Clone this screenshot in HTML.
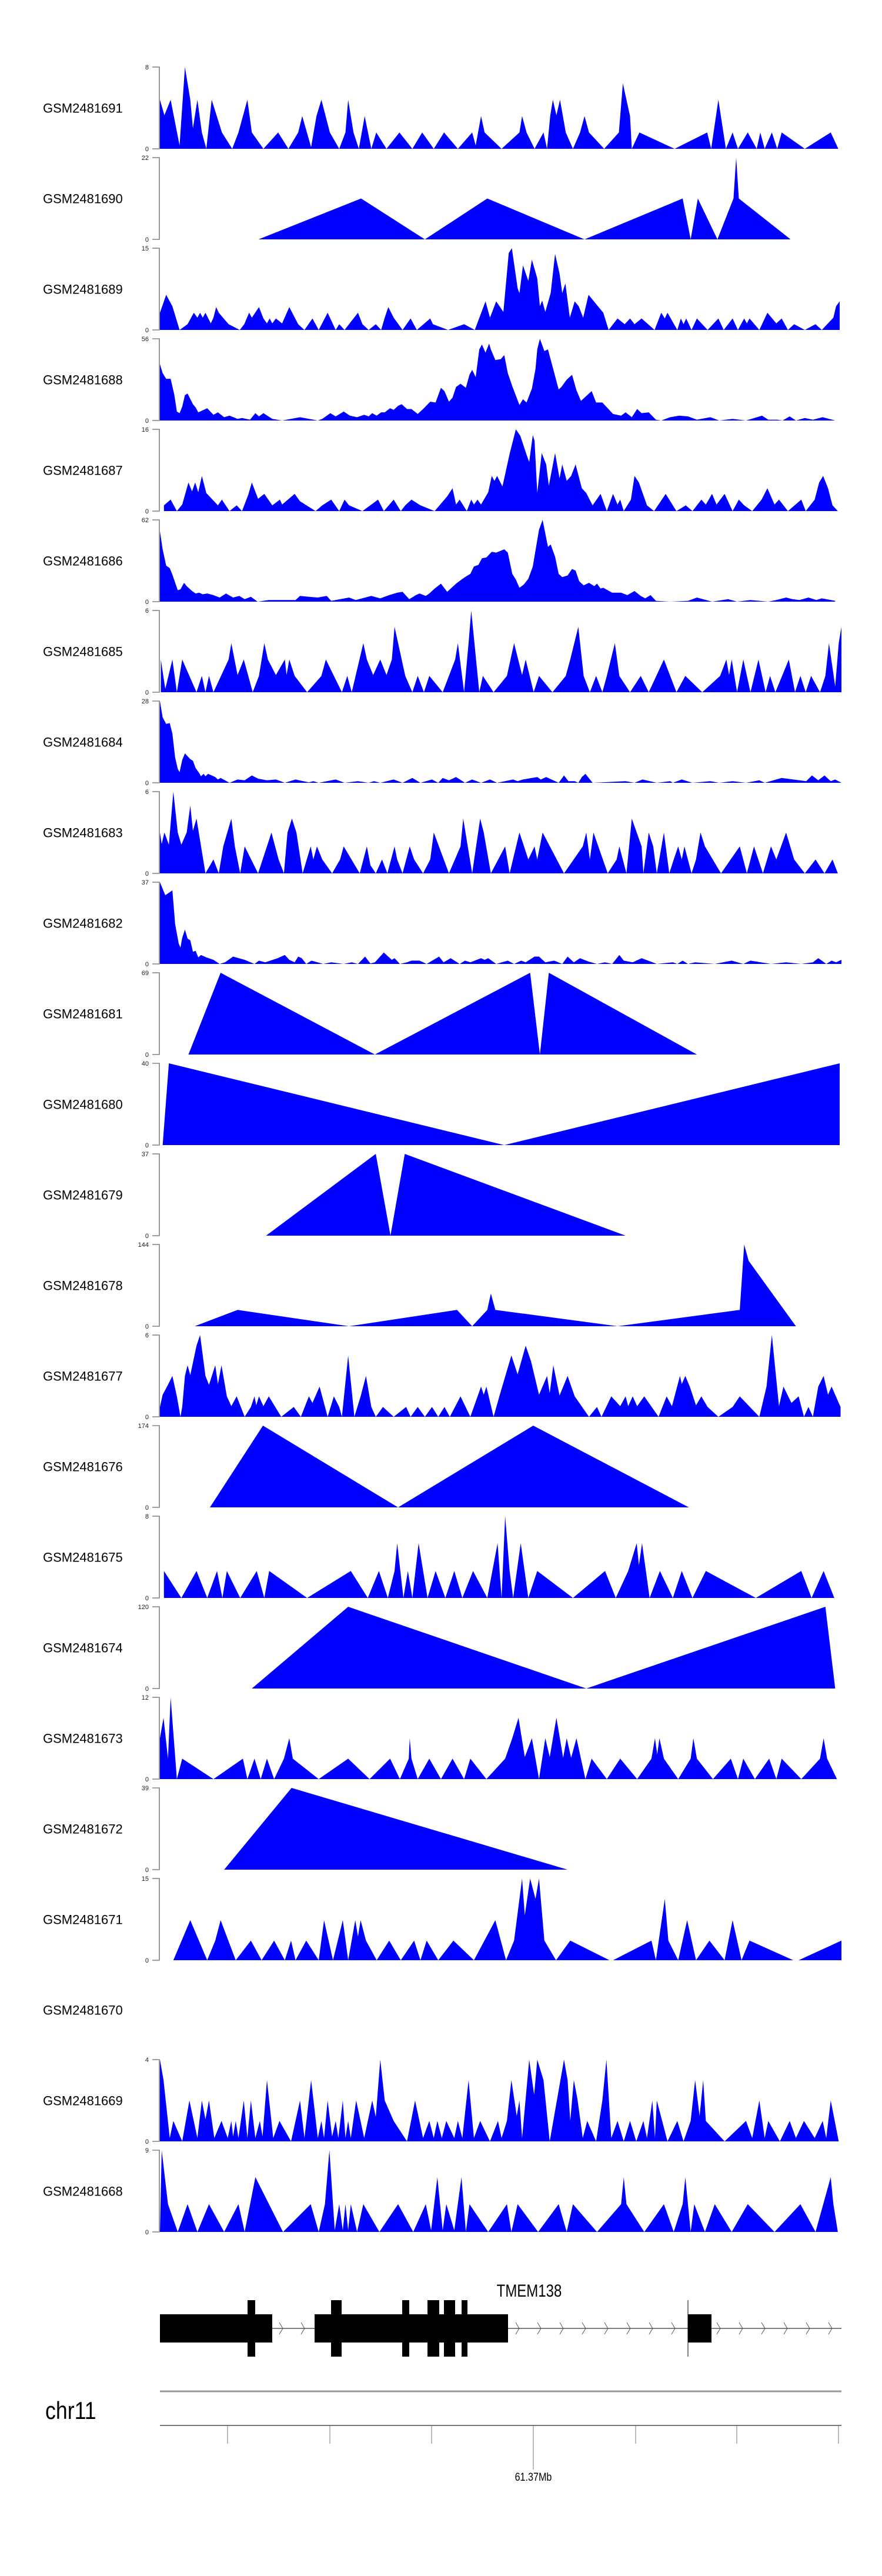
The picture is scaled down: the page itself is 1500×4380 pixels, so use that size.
<!DOCTYPE html>
<html><head><meta charset="utf-8">
<style>
html,body{margin:0;padding:0;background:#fff;}
body{width:1500px;height:4380px;overflow:hidden;font-family:"Liberation Sans",sans-serif;}
svg{display:block;}
</style></head>
<body>
<svg id="chart" width="1500" height="4380" xmlns="http://www.w3.org/2000/svg"></svg>
<script>
// Sample names (top to bottom)
const sampleNames = ["GSM2481691","GSM2481690","GSM2481689","GSM2481688","GSM2481687","GSM2481686","GSM2481685","GSM2481684","GSM2481683","GSM2481682","GSM2481681","GSM2481680","GSM2481679","GSM2481678","GSM2481677","GSM2481676","GSM2481675","GSM2481674","GSM2481673","GSM2481672","GSM2481671","GSM2481670","GSM2481669","GSM2481668"];
// y-axis max tick label per track (null = empty track)
const maxTicks = [8,22,15,56,16,62,6,28,6,37,69,40,37,144,6,174,8,120,12,39,15,null,4,9];
// Coverage series: [genomic bin, signal as % of track max]
const s1691 = [[16,60],[26,41],[40,60],[60,4],[72,100],[84,60],[90,25],[100,60],[110,20],[120,0],[132,60],[155,20],[178,0],[192,20],[212,60],[222,20],[248,0],[281,20],[304,0],[326,20],[335,40],[355,2],[367,40],[378,60],[397,20],[418,0],[432,20],[438,60],[450,20],[462,0],[475,40],[490,0],[501,20],[524,0],[553,20],[582,0],[604,20],[630,0],[653,20],[684,0],[716,20],[724,4],[736,40],[744,20],[782,0],[822,20],[828,40],[838,20],[856,0],[876,20],[884,0],[891,40],[897,60],[905,41],[913,60],[926,20],[942,0],[958,20],[968,40],[978,20],[1012,0],[1045,20],[1054,80],[1062,60],[1070,40],[1074,0],[1091,20],[1170,0],[1243,20],[1252,0],[1268,60],[1285,0],[1300,20],[1312,0],[1334,20],[1354,0],[1362,20],[1372,0],[1388,20],[1400,0],[1410,20],[1462,0],[1520,20],[1537,0]];
const s1690 = [[237,0],[467,50],[610,0],[750,50],[968,0],[1188,50],[1206,0],[1222,50],[1266,0],[1302,50],[1308,100],[1314,50],[1430,0]];
const s1689 = [[16,21],[30,43],[44,29],[60,0],[78,7],[92,21],[100,15],[106,21],[112,15],[118,21],[130,8],[136,15],[142,28],[148,21],[170,7],[195,0],[205,7],[216,21],[222,15],[238,28],[248,14],[256,8],[262,14],[268,8],[276,14],[290,8],[306,28],[326,7],[340,0],[358,14],[372,0],[392,21],[410,0],[418,7],[430,0],[460,21],[470,7],[484,0],[500,7],[512,0],[520,15],[528,28],[540,15],[560,0],[578,14],[592,0],[622,14],[628,7],[662,0],[698,7],[722,0],[746,35],[756,15],[770,35],[786,22],[798,94],[805,100],[818,51],[822,45],[830,79],[842,60],[850,86],[862,63],[868,29],[873,36],[880,22],[892,45],[902,93],[912,69],[918,45],[925,57],[935,15],[946,35],[955,29],[965,15],[977,43],[1010,21],[1022,0],[1042,14],[1058,7],[1070,14],[1080,7],[1096,14],[1125,0],[1140,21],[1148,14],[1154,21],[1176,0],[1184,14],[1190,7],[1196,14],[1208,0],[1220,14],[1244,0],[1268,14],[1280,0],[1300,14],[1312,0],[1326,14],[1332,8],[1338,14],[1360,0],[1378,21],[1398,8],[1410,14],[1424,0],[1438,7],[1462,0],[1486,7],[1500,0],[1526,15],[1532,29],[1540,35]];
const s1688 = [[16,69],[22,58],[30,51],[40,51],[48,32],[54,11],[60,9],[66,17],[72,31],[78,33],[90,20],[96,16],[102,10],[122,15],[136,7],[146,10],[160,4],[172,6],[190,2],[200,3],[218,1],[230,9],[238,5],[248,9],[268,2],[290,0],[330,4],[370,0],[380,2],[398,9],[410,5],[428,11],[442,6],[458,4],[474,7],[484,5],[492,9],[502,6],[512,10],[520,10],[532,15],[540,13],[550,18],[558,20],[570,14],[580,14],[594,8],[606,14],[622,23],[634,22],[646,40],[654,36],[664,23],[672,28],[680,41],[690,45],[702,40],[710,56],[716,62],[724,53],[732,87],[738,93],[746,83],[754,94],[758,87],[768,74],[780,75],[788,80],[796,58],[806,42],[822,19],[830,26],[838,22],[850,39],[858,63],[862,87],[868,100],[878,85],[886,87],[910,38],[916,41],[928,50],[940,56],[950,37],[960,24],[984,36],[994,22],[1008,22],[1020,15],[1032,8],[1050,6],[1060,10],[1074,4],[1086,14],[1096,9],[1112,10],[1128,1],[1140,0],[1160,4],[1180,6],[1200,5],[1220,1],[1250,4],[1270,0],[1300,2],[1330,0],[1366,6],[1380,1],[1400,1],[1412,0],[1428,5],[1442,0],[1462,3],[1480,1],[1502,4],[1530,0]];
const s1687 = [[25,7],[40,14],[54,0],[66,8],[80,35],[88,24],[95,35],[102,23],[110,43],[120,22],[146,7],[155,14],[172,0],[188,7],[200,0],[214,20],[222,35],[236,15],[250,21],[268,7],[285,14],[290,8],[318,21],[330,12],[365,0],[380,7],[400,14],[418,0],[430,14],[440,7],[470,0],[505,14],[518,0],[540,14],[556,0],[566,7],[580,14],[600,7],[632,0],[660,18],[672,28],[680,8],[688,14],[704,0],[714,14],[720,8],[728,14],[736,8],[752,23],[760,43],[766,37],[772,43],[784,30],[800,70],[814,100],[824,92],[838,69],[844,60],[852,93],[856,86],[862,22],[872,71],[882,57],[888,31],[902,71],[912,40],[918,57],[928,37],[938,43],[948,57],[962,28],[972,22],[986,7],[1004,21],[1018,0],[1032,21],[1042,8],[1048,14],[1056,0],[1072,14],[1080,43],[1090,35],[1108,7],[1124,0],[1150,21],[1174,0],[1195,7],[1210,0],[1230,14],[1240,8],[1254,21],[1264,8],[1282,21],[1294,7],[1300,0],[1314,14],[1326,7],[1344,0],[1365,14],[1378,28],[1394,8],[1404,14],[1424,0],[1454,14],[1464,0],[1484,14],[1494,35],[1503,43],[1514,28],[1524,7],[1536,0]];
const s1686 = [[16,86],[22,64],[30,44],[38,41],[44,33],[56,14],[62,15],[70,23],[76,19],[88,13],[96,10],[104,11],[112,9],[122,10],[136,8],[150,5],[164,10],[180,5],[194,7],[206,3],[220,6],[235,0],[260,2],[290,2],[320,2],[330,7],[350,6],[370,5],[390,7],[400,1],[440,5],[455,2],[490,7],[510,4],[530,8],[548,11],[560,12],[575,3],[590,8],[598,10],[612,7],[620,10],[632,16],[646,22],[660,12],[680,22],[692,27],[700,30],[712,34],[720,43],[730,45],[738,53],[748,54],[760,61],[770,60],[788,64],[796,60],[806,34],[814,27],[822,17],[832,21],[842,28],[852,43],[860,69],[866,88],[874,100],[886,67],[892,70],[902,55],[910,34],[918,30],[930,32],[940,40],[948,38],[956,25],[966,20],[978,23],[990,19],[996,22],[1004,16],[1010,17],[1030,11],[1050,11],[1064,8],[1080,13],[1094,7],[1104,4],[1116,8],[1128,1],[1160,0],[1200,1],[1220,5],[1254,0],[1290,3],[1310,0],[1340,2],[1380,0],[1398,2],[1420,5],[1434,3],[1450,2],[1470,5],[1488,2],[1500,4],[1530,1]];
const s1685 = [[18,40],[28,4],[44,40],[54,0],[66,40],[98,0],[110,20],[118,0],[126,20],[136,0],[170,40],[176,60],[190,21],[204,40],[224,0],[238,20],[250,60],[258,40],[276,21],[296,40],[300,21],[306,40],[318,20],[346,0],[378,20],[388,40],[424,0],[436,20],[446,0],[472,60],[480,40],[494,21],[510,40],[524,21],[536,40],[542,80],[566,20],[582,0],[594,20],[608,0],[620,20],[650,0],[678,40],[684,60],[698,0],[708,60],[714,100],[732,0],[740,20],[764,0],[794,20],[810,60],[828,21],[836,40],[854,0],[866,20],[896,0],[926,20],[936,40],[954,80],[966,20],[980,0],[994,20],[1008,0],[1018,20],[1036,60],[1046,20],[1070,0],[1094,20],[1112,0],[1146,40],[1174,0],[1194,20],[1232,0],[1272,20],[1286,40],[1292,21],[1298,40],[1310,0],[1324,40],[1340,0],[1358,40],[1374,0],[1384,20],[1396,0],[1426,40],[1440,0],[1452,20],[1464,0],[1476,20],[1496,0],[1508,20],[1516,60],[1530,7],[1538,60],[1544,80]];
const s1684 = [[16,100],[22,80],[30,72],[38,73],[44,60],[50,31],[56,17],[60,13],[66,28],[72,36],[84,29],[90,27],[96,18],[104,12],[108,8],[114,11],[118,8],[124,11],[140,7],[146,4],[152,6],[172,0],[190,4],[206,3],[222,9],[236,5],[256,3],[276,4],[296,0],[320,4],[350,0.5],[360,2],[372,0],[410,4],[430,0],[460,2],[484,0],[496,2],[510,0],[540,4],[560,0],[582,6],[600,0],[626,4],[640,0],[650,6],[664,3],[680,7],[700,0],[716,4],[736,0],[756,4],[772,0],[808,4],[818,2],[830,4],[862,7],[870,4],[882,7],[910,0],[922,9],[932,2],[946,2],[954,0],[962,7],[970,11],[986,0],[1060,2],[1080,0],[1098,4],[1130,0],[1160,2],[1166,0],[1186,4],[1210,0],[1250,2],[1270,0],[1300,2],[1330,0],[1360,3],[1372,0],[1410,6],[1465,2],[1478,9],[1492,3],[1506,9],[1520,2],[1530,4],[1544,0]];
const s1683 = [[16,50],[20,36],[26,50],[36,35],[46,100],[56,50],[64,35],[76,50],[84,83],[90,52],[98,67],[118,0],[136,17],[148,0],[158,33],[176,67],[184,33],[196,0],[206,33],[236,0],[256,33],[266,50],[282,17],[294,0],[302,50],[312,67],[322,50],[336,0],[354,33],[360,17],[368,33],[380,17],[402,0],[420,17],[428,33],[464,0],[480,33],[488,10],[500,0],[514,17],[526,0],[542,33],[548,17],[560,0],[576,33],[586,17],[606,0],[622,17],[630,50],[664,0],[690,33],[696,67],[716,0],[734,67],[742,50],[758,0],[790,33],[800,0],[822,50],[842,17],[856,33],[862,17],[874,50],[922,0],[964,33],[972,50],[980,17],[988,50],[1020,0],[1040,17],[1046,33],[1062,0],[1074,67],[1096,33],[1100,0],[1112,50],[1122,33],[1130,0],[1146,50],[1158,0],[1168,17],[1178,33],[1186,17],[1192,33],[1208,0],[1218,17],[1228,50],[1238,33],[1274,0],[1316,33],[1332,0],[1348,33],[1368,0],[1386,33],[1398,17],[1420,50],[1438,17],[1462,0],[1486,17],[1506,0],[1524,17],[1536,0]];
const s1682 = [[16,100],[28,84],[44,90],[50,49],[58,25],[62,20],[66,32],[72,42],[78,31],[84,29],[90,15],[96,16],[102,8],[108,11],[120,8],[136,5],[150,0],[162,2],[180,9],[206,5],[228,0],[238,4],[252,2],[280,7],[296,11],[306,5],[318,2],[326,9],[334,7],[344,0],[356,4],[382,0],[400,2],[428,0],[446,2],[460,0],[476,9],[488,0.5],[498,2],[518,14],[526,10],[536,5],[542,7],[554,0],[570,2],[580,4],[598,4],[614,0],[642,9],[652,2],[668,7],[688,0],[700,4],[712,2],[736,7],[744,5],[752,7],[770,0],[796,4],[810,0],[826,4],[836,2],[856,9],[866,9],[880,2],[900,4],[918,0],[930,9],[944,2],[958,7],[976,3],[996,0],[1014,2],[1030,0],[1046,11],[1056,4],[1076,2],[1096,7],[1130,0],[1166,2],[1176,0],[1188,4],[1200,0],[1216,2],[1260,0],[1298,4],[1324,0],[1340,4],[1386,0],[1420,2],[1454,0],[1480,2],[1492,7],[1500,4],[1510,0],[1522,4],[1532,2],[1544,5]];
const s1681 = [[80,0],[152,100],[498,0],[846,100],[868,0],[888,100],[1220,0]];
const s1680 = [[22,0],[36,100],[788,0],[1540,100]];
const s1679 = [[254,0],[500,100],[533,0],[565,100],[1060,0]];
const s1678 = [[94,0],[190,20],[440,0],[682,20],[716,0],[750,20],[758,40],[768,20],[1042,0],[1316,20],[1326,100],[1336,80],[1442,0]];
const s1677 = [[16,12],[22,27],[32,37],[44,50],[54,25],[62,0],[66,12],[72,50],[78,63],[84,51],[98,87],[106,100],[118,50],[126,39],[140,63],[146,40],[154,63],[166,25],[176,13],[188,25],[206,0],[220,12],[228,25],[232,14],[238,25],[248,13],[260,25],[288,0],[316,12],[332,0],[350,25],[358,17],[374,37],[392,0],[406,25],[418,12],[424,0],[438,75],[452,0],[466,25],[478,50],[490,12],[500,0],[516,12],[540,0],[568,12],[578,0],[594,12],[610,0],[626,12],[640,0],[654,12],[666,0],[690,25],[712,0],[736,37],[742,27],[748,37],[764,0],[778,27],[804,75],[818,52],[836,87],[848,68],[866,27],[884,50],[890,29],[898,63],[912,26],[930,50],[946,25],[978,0],[996,12],[1006,0],[1028,25],[1048,13],[1060,25],[1066,13],[1076,25],[1086,13],[1102,25],[1134,0],[1152,25],[1164,13],[1182,50],[1186,40],[1194,50],[1204,37],[1218,14],[1230,25],[1244,12],[1268,0],[1300,12],[1316,25],[1360,0],[1376,37],[1388,100],[1404,13],[1414,37],[1432,17],[1448,25],[1460,0],[1470,12],[1480,0],[1492,37],[1504,50],[1514,27],[1522,37],[1542,12]];
const s1676 = [[128,0],[247,100],[550,0],[853,100],[1202,0]];
const s1675 = [[25,33],[64,0],[98,33],[122,0],[144,33],[156,0],[166,33],[196,0],[233,33],[250,0],[261,33],[346,0],[444,33],[482,0],[507,33],[527,0],[542,33],[548,67],[562,0],[572,33],[582,0],[596,67],[616,0],[634,33],[656,0],[676,33],[694,0],[718,33],[750,0],[773,67],[782,0],[790,100],[800,33],[808,0],[825,67],[842,0],[862,33],[942,0],[1014,33],[1038,0],[1066,33],[1085,67],[1090,40],[1097,67],[1114,0],[1137,33],[1166,0],[1186,33],[1210,0],[1240,33],[1352,0],[1454,33],[1477,0],[1504,33],[1528,0]];
const s1674 = [[222,0],[438,100],[972,0],[1508,100],[1530,0]];
const s1673 = [[16,50],[24,75],[34,25],[40,100],[54,0],[66,25],[136,0],[202,25],[212,0],[228,25],[242,0],[256,25],[272,0],[294,25],[306,50],[314,25],[372,0],[438,25],[486,0],[532,25],[554,0],[574,25],[576,50],[580,25],[594,0],[620,25],[646,0],[672,25],[698,0],[712,25],[748,0],[790,25],[806,50],[820,75],[834,27],[850,50],[866,0],[880,50],[890,27],[905,75],[920,26],[928,50],[938,26],[950,50],[970,0],[984,25],[1018,0],[1048,25],[1086,0],[1118,25],[1126,50],[1131,30],[1136,50],[1146,25],[1178,0],[1206,25],[1212,50],[1220,25],[1256,0],[1296,25],[1312,0],[1324,25],[1350,0],[1382,25],[1398,0],[1410,25],[1454,0],[1496,25],[1504,50],[1512,25],[1534,0]];
const s1672 = [[160,0],[311,100],[930,0]];
const s1671 = [[46,0],[84,49],[122,0],[140,24],[152,49],[186,0],[220,24],[244,0],[272,24],[296,0],[310,24],[320,0],[344,24],[372,0],[384,49],[404,0],[426,49],[438,0],[454,49],[460,29],[466,49],[478,24],[502,0],[530,24],[556,0],[586,24],[600,0],[614,24],[640,0],[674,24],[720,0],[768,49],[792,0],[810,24],[828,100],[834,55],[846,100],[858,75],[866,100],[878,24],[904,0],[936,24],[1024,0],[1032,0],[1118,24],[1128,0],[1148,75],[1156,24],[1178,0],[1198,49],[1218,0],[1248,24],[1282,0],[1300,49],[1320,0],[1338,24],[1436,0],[1448,0],[1544,24]];
const s1670 = [];
const s1669 = [[16,100],[24,75],[38,4],[46,25],[66,0],[82,50],[100,4],[110,50],[118,27],[126,50],[138,4],[154,25],[168,4],[176,25],[180,6],[186,25],[192,4],[204,50],[212,4],[220,50],[230,4],[240,25],[246,6],[256,75],[270,4],[284,25],[310,0],[330,50],[340,4],[355,75],[370,4],[378,25],[384,4],[392,50],[402,6],[410,25],[416,4],[426,50],[432,4],[438,25],[444,4],[456,50],[474,4],[492,50],[500,30],[510,100],[520,50],[540,25],[570,0],[588,50],[606,4],[620,25],[630,4],[638,25],[648,4],[658,25],[676,4],[684,25],[694,4],[708,75],[720,4],[734,25],[756,0],[774,25],[782,4],[794,25],[804,75],[816,31],[822,50],[828,4],[844,100],[855,57],[862,100],[876,75],[890,0],[922,100],[930,75],[936,25],[944,75],[952,52],[964,4],[974,25],[994,0],[1008,50],[1017,100],[1028,4],[1042,25],[1056,0],[1070,25],[1084,0],[1100,25],[1108,4],[1120,50],[1126,4],[1130,50],[1154,0],[1176,25],[1190,0],[1206,25],[1216,75],[1226,31],[1234,75],[1240,25],[1282,0],[1330,25],[1344,4],[1360,50],[1372,4],[1380,25],[1406,0],[1428,25],[1442,4],[1460,25],[1484,4],[1502,25],[1510,4],[1520,50],[1538,0]];
const s1668 = [[16,0],[20,100],[34,34],[56,0],[78,34],[100,0],[126,34],[160,0],[192,34],[206,0],[230,67],[292,0],[354,34],[372,0],[386,34],[396,100],[408,2],[418,34],[426,2],[432,34],[438,2],[444,34],[458,0],[472,34],[508,0],[550,34],[584,0],[612,34],[624,2],[638,67],[650,2],[658,34],[676,2],[692,67],[702,0],[710,34],[752,0],[794,34],[804,0],[818,34],[864,0],[910,34],[928,0],[942,34],[996,0],[1050,34],[1056,67],[1062,34],[1102,0],[1146,34],[1168,0],[1188,34],[1194,67],[1206,0],[1214,34],[1238,0],[1260,34],[1298,0],[1334,34],[1394,0],[1452,34],[1486,0],[1520,67],[1526,34],[1536,0]];
const seriesList = [s1691,s1690,s1689,s1688,s1687,s1686,s1685,s1684,s1683,s1682,s1681,s1680,s1679,s1678,s1677,s1676,s1675,s1674,s1673,s1672,s1671,s1670,s1669,s1668];

// Gene model
const exonBoxes = [[272,463],[535,864],[1170,1210]];
const tallExons = [[421,434],[563,581],[684,696],[727,747],[755,774],[785,795]];
const axisTicks = [387,561,734,907,1081,1253,1426];
const axisLabel = "61.37Mb";

const NS = "http://www.w3.org/2000/svg";
const svg = document.getElementById('chart');
function mk(tag, attrs, parent){ const e=document.createElementNS(NS,tag); for(const k in attrs) e.setAttribute(k,attrs[k]); (parent||svg).appendChild(e); return e; }

const X0=272, X1=1431, D0=16, D1=1544;
function xScale(p){ return X0 + (p-D0)/(D1-D0)*(X1-X0); }
const TOP0=114, PITCH=154, H=139;
function yScale(pct, top){ return top + H - pct/100*H; }

sampleNames.forEach((name,i)=>{
  const top = TOP0 + PITCH*i;
  const g = mk('g',{});
  
  
  const lab = mk('text',{x:73,y:top+H/2+8,'font-size':22,fill:'#000','font-family':'Liberation Sans, sans-serif'},g);
  lab.textContent = name;
  
  
  const mx = maxTicks[i];
  if(mx!==null){
    const ax = mk('path',{d:`M259 ${top} H271 V${top+H} H259`,stroke:'#808080','stroke-width':1.6,fill:'none'},g);
    
    
    const t1 = mk('text',{x:253,y:top+4,'font-size':11,'text-anchor':'end',fill:'#222'},g);
    t1.textContent = String(mx);
    
    
    const t0 = mk('text',{x:253,y:top+H+4,'font-size':11,'text-anchor':'end',fill:'#222'},g);
    t0.textContent = '0';
    
    
  }
  const s = seriesList[i];
  if(s.length){
    let d = `M${xScale(s[0][0]).toFixed(1)} ${top+H}`;
    s.forEach(p=>{ d += ` L${xScale(p[0]).toFixed(1)} ${yScale(p[1],top).toFixed(1)}`; });
    d += ` L${xScale(s[s.length-1][0]).toFixed(1)} ${top+H} Z`;
    const poly = mk('path',{d:d,fill:'#0000ff',stroke:'none'},g);
    
    
  }
});

// Gene track
const gg = mk('g',{});


const gl = mk('line',{x1:463,y1:3959,x2:1431,y2:3959,stroke:'#555','stroke-width':1.5},gg);


const chevX = [478,515,880,917,955,993,1031,1069,1107,1145,1222,1260,1298,1336,1374,1412];
chevX.forEach(cx=>{
  const c = mk('path',{d:`M${cx-3} 3949 L${cx+3} 3959 L${cx-3} 3969`,stroke:'#555','stroke-width':1,fill:'none'},gg);
  
  
});
const vline = mk('line',{x1:1170,y1:3911,x2:1170,y2:4007,stroke:'#000','stroke-width':1},gg);


exonBoxes.forEach(b=>{
  const r = mk('rect',{x:b[0],y:3935,width:b[1]-b[0],height:48,fill:'#000'},gg);
  
  
});
tallExons.forEach(b=>{
  const r = mk('rect',{x:b[0],y:3911,width:b[1]-b[0],height:96,fill:'#000'},gg);
  
  
});
const gname = mk('text',{x:900,y:3905,'font-size':30,'text-anchor':'middle',fill:'#000',transform:'translate(900 3905) scale(0.8 1) translate(-900 -3905)'},gg);
gname.textContent = 'TMEM138';



// Genome axis
const ag = mk('g',{});


const ideo = mk('line',{x1:272,y1:4066,x2:1431,y2:4066,stroke:'#999','stroke-width':3},ag);


const chr = mk('text',{x:77,y:4113,'font-size':42,fill:'#000',transform:'translate(77 4113) scale(0.85 1) translate(-77 -4113)'},ag);
chr.textContent = 'chr11';


const base = mk('line',{x1:272,y1:4124,x2:1431,y2:4124,stroke:'#777','stroke-width':2},ag);


axisTicks.forEach((tx,i)=>{
  const long = (i===3);
  const t = mk('line',{x1:tx,y1:4124,x2:tx,y2:long?4199:4155,stroke:'#777','stroke-width':1},ag);
  
  
});
const al = mk('text',{x:907,y:4218,'font-size':19,'text-anchor':'middle',fill:'#000',transform:'translate(907 4218) scale(0.85 1) translate(-907 -4218)'},ag);
al.textContent = axisLabel;


</script>
</body></html>
